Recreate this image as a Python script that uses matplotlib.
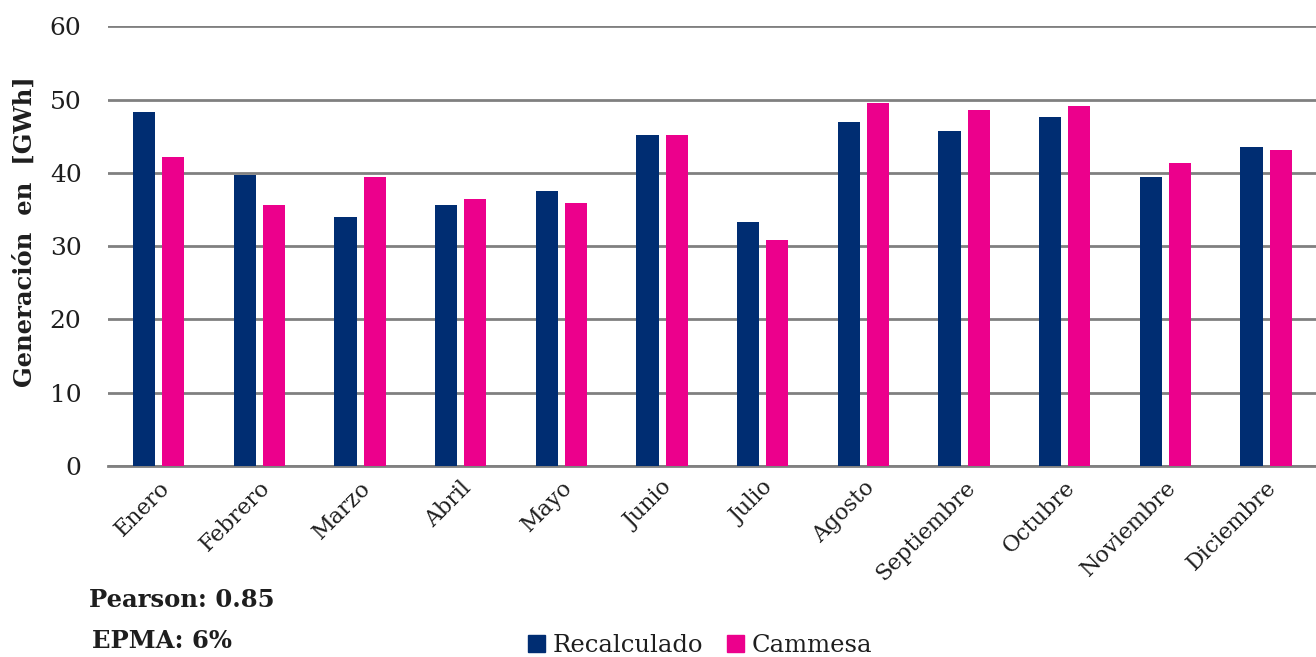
import matplotlib
matplotlib.use("Agg")
import matplotlib.pyplot as plt
import numpy as np
from matplotlib.patches import Patch

months = ["Enero", "Febrero", "Marzo", "Abril", "Mayo", "Junio", "Julio",
          "Agosto", "Septiembre", "Octubre", "Noviembre", "Diciembre"]
recalculado = [48.3, 39.7, 34.0, 35.6, 37.5, 45.2, 33.3, 46.9, 45.7, 47.6, 39.4, 43.5]
cammesa = [42.2, 35.6, 39.4, 36.4, 35.9, 45.2, 30.8, 49.5, 48.6, 49.1, 41.3, 43.1]
yticks = [0, 10, 20, 30, 40, 50, 60]

BLUE = "#002D72"
PINK = "#EC008C"
GRID = "#808080"
TXT = "#1e1e1e"
FONT = "DejaVu Serif"

plt.rcParams['font.family'] = [FONT, 'DejaVu Sans']

fig = plt.figure(figsize=(13.16, 6.57), dpi=100)
ax = fig.add_axes([0.082, 0.291, 0.918, 0.669])

x = np.arange(len(months))
w = 0.22
ax.bar(x - 0.14, recalculado, width=w, color=BLUE, zorder=3)
ax.bar(x + 0.15, cammesa, width=w, color=PINK, zorder=3)

ax.set_xlim(-0.5, len(months) - 0.5)
ax.set_ylim(0, 60)
ax.set_yticks(yticks)
ax.set_yticklabels([str(v) for v in yticks], fontsize=18, color=TXT)
ax.yaxis.grid(True, color=GRID, linewidth=2, zorder=0)
ax.tick_params(axis='y', length=0, pad=19)
for s in ["top", "right", "left"]:
    ax.spines[s].set_visible(False)
ax.spines["bottom"].set_color(GRID)
ax.spines["bottom"].set_linewidth(2)

ax.set_xticks(x)
ax.set_xticklabels(months, rotation=45, ha="right", rotation_mode="anchor",
                   fontsize=16, color=TXT)
ax.tick_params(axis='x', length=0, pad=8)

fig.text(0.019, 0.647, "Generación  en  [GWh]", rotation=90, fontsize=17.5,
         fontweight="bold", va="center", ha="center", color=TXT)

fig.text(0.068, 0.086, "Pearson: 0.85", fontsize=17.5, fontweight="bold",
         color=TXT, va="center")
fig.text(0.070, 0.024, "EPMA: 6%", fontsize=17.5, fontweight="bold",
         color=TXT, va="center")

handles = [Patch(color=BLUE, label="Recalculado"), Patch(color=PINK, label="Cammesa")]
fig.legend(handles=handles, loc="center", bbox_to_anchor=(0.532, 0.018), ncol=2,
           frameon=False, fontsize=17.5, handlelength=0.7, handleheight=0.7,
           handletextpad=0.3, columnspacing=1.0, labelcolor=TXT)

fig.savefig("out.png", dpi=100)
